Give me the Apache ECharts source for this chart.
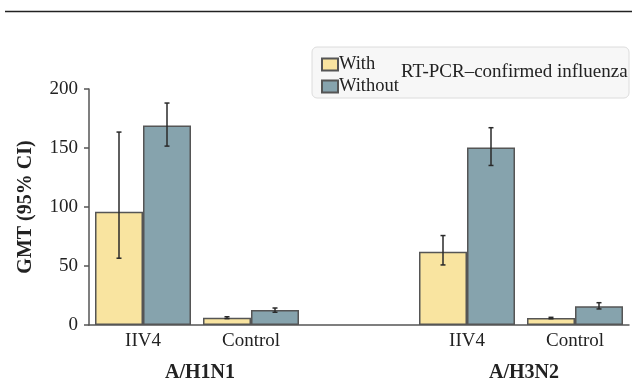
<!DOCTYPE html>
<html>
<head>
<meta charset="utf-8">
<script src="https://cdn.jsdelivr.net/npm/echarts@6/dist/echarts.min.js"></script>
<style>
  html, body { margin: 0; padding: 0; background: #fff; }
  #chart { width: 632px; height: 383px; }
</style>
</head>
<body>
<div id="chart"></div>
<script>
// x categories: two strains, each with IIV4 / Control (blank slot separates the groups)
const categories = ['IIV4', 'Control', '', 'IIV4', 'Control']
const groupLabels = ['A/H1N1', 'A/H3N2']
const yTicks = [0, 50, 100, 150, 200]

// GMT values
const withFlu = [96, 6.2, '-', 62, 5.9]
const withoutFlu = [169, 12.7, '-', 150.5, 15.9]

// 95% CI [low, high]
const withCI = [[56.6, 163.5], [5.4, 7.0], null, [50.9, 75.8], [5.3, 6.5]]
const withoutCI = [[151.6, 188.1], [10.8, 14.4], null, [135.2, 167.2], [13.6, 18.9]]

const FONT = '"Liberation Serif", "DejaVu Serif", serif'
const BAR_W = 48
const chart = echarts.init(document.getElementById('chart'))

const errorSeries = (ci, shift) => ({
  type: 'custom',
  z: 5,
  silent: true,
  data: ci.map((d, i) => d ? [i, d[0], d[1]] : [i, '-', '-']),
  renderItem: (params, api) => {
    if (isNaN(api.value(1))) return null
    const lo = api.coord([api.value(0), api.value(1)])
    const hi = api.coord([api.value(0), api.value(2)])
    const x = lo[0] + shift
    const cap = 2.5
    const style = { stroke: '#2a2a2a', lineWidth: 1.5 }
    return {
      type: 'group',
      children: [
        { type: 'line', shape: { x1: x, y1: lo[1], x2: x, y2: hi[1] }, style },
        { type: 'line', shape: { x1: x - cap, y1: lo[1], x2: x + cap, y2: lo[1] }, style },
        { type: 'line', shape: { x1: x - cap, y1: hi[1], x2: x + cap, y2: hi[1] }, style }
      ]
    }
  }
})

chart.setOption({
  animation: false,
  textStyle: { fontFamily: FONT },
  grid: { left: 89, right: 3, top: 89, bottom: 58 },
  legend: {
    orient: 'vertical',
    left: 316,
    top: 50,
    itemWidth: 16,
    itemHeight: 12,
    itemGap: 3,
    icon: 'rect',
    data: ['With', 'Without'],
    textStyle: { fontFamily: FONT, fontSize: 18.5, color: '#222', padding: [0, 0, 0, -4] }
  },
  graphic: [
    { type: 'line', shape: { x1: 5, y1: 11.5, x2: 632, y2: 11.5 }, style: { stroke: '#222', lineWidth: 1.5 } },
    { type: 'rect', z: -1, shape: { x: 312, y: 47, width: 317, height: 51, r: 5 },
      style: { fill: '#f7f7f7', stroke: '#dcdcdc', lineWidth: 1 } },
    { type: 'text', left: 401, top: 63,
      style: { text: 'RT-PCR–confirmed influenza', font: '19px ' + FONT, fill: '#222' } }
  ],
  xAxis: {
    type: 'category',
    data: categories,
    axisTick: { show: false },
    axisLine: { lineStyle: { color: '#555', width: 1.5 } },
    axisLabel: { fontSize: 19, color: '#222', margin: 7 }
  },
  yAxis: {
    type: 'value',
    min: yTicks[0],
    max: yTicks[yTicks.length - 1],
    interval: 50,
    name: 'GMT (95% CI)',
    nameLocation: 'middle',
    nameGap: 53,
    nameTextStyle: { fontSize: 20, fontWeight: 'bold', color: '#222' },
    splitLine: { show: false },
    axisLine: { show: true, lineStyle: { color: '#555', width: 1.5 } },
    axisTick: { show: true, length: 5, lineStyle: { color: '#555', width: 1.5 } },
    axisLabel: { fontSize: 19, color: '#222', margin: 11 }
  },
  series: [
    {
      name: 'With', type: 'bar', data: withFlu, barWidth: BAR_W, barGap: '0%',
      itemStyle: { color: '#f9e4a0', borderColor: '#555', borderWidth: 1.5 }
    },
    {
      name: 'Without', type: 'bar', data: withoutFlu, barWidth: BAR_W, barGap: '0%',
      itemStyle: { color: '#86a3ad', borderColor: '#555', borderWidth: 1.5 }
    },
    errorSeries(withCI, -BAR_W / 2),
    errorSeries(withoutCI, BAR_W / 2)
  ]
})

// strain labels centred under each IIV4/Control pair
const pairCenter = (a, b) => (chart.convertToPixel({ xAxisIndex: 0 }, a) + chart.convertToPixel({ xAxisIndex: 0 }, b)) / 2
chart.setOption({
  graphic: [
    { id: 'g1', type: 'text', x: pairCenter(0, 1) + 3, y: 373,
      style: { text: groupLabels[0], font: 'bold 20px ' + FONT, fill: '#222', align: 'center', verticalAlign: 'middle' } },
    { id: 'g2', type: 'text', x: pairCenter(3, 4) + 3, y: 373,
      style: { text: groupLabels[1], font: 'bold 20px ' + FONT, fill: '#222', align: 'center', verticalAlign: 'middle' } }
  ]
})
</script>
</body>
</html>
